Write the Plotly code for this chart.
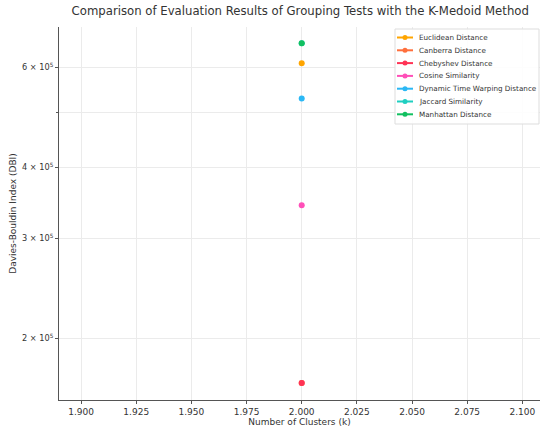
import plotly.graph_objects as go

series_names = ["Euclidean Distance", "Canberra Distance", "Chebyshev Distance",
                "Cosine Similarity", "Dynamic Time Warping Distance",
                "Jaccard Similarity", "Manhattan Distance"]
colors = ["#FFA500", "#FF6F3C", "#FF3355", "#FF4FB8", "#2BB8F5", "#1FCFC1", "#12C060"]
clusters = [2]
dbi_values = [[610000], [167000], [167000], [343000], [529000], [661000], [661000]]

y_tickvals = [2e5, 3e5, 4e5, 6e5]
y_ticktext = ["2 × 10<sup>5</sup>", "3 × 10<sup>5</sup>", "4 × 10<sup>5</sup>", "6 × 10<sup>5</sup>"]
y_minor_vals = [5e5]
x_tickvals = [1.9, 1.925, 1.95, 1.975, 2.0, 2.025, 2.05, 2.075, 2.1]
x_ticktext = ["1.900", "1.925", "1.950", "1.975", "2.000", "2.025", "2.050", "2.075", "2.100"]

W, H = 541, 427
L, R, T, B = 59, 1, 27, 27
PW, PH = W - L - R, H - T - B


def px(x):
    return (x - L) / PW


def py(y):
    return 1 - (y - T) / PH


fig = go.Figure()
for name, col, vals in zip(series_names, colors, dbi_values):
    fig.add_trace(go.Scatter(x=clusters, y=vals, name=name, mode="lines+markers",
                             line=dict(color=col, width=2), marker=dict(color=col, size=6),
                             showlegend=False))

# custom compact legend (matplotlib style)
shapes = [dict(type="rect", xref="paper", yref="paper", x0=px(395), x1=px(539), y0=py(124), y1=py(29),
               line=dict(color="#dddddd", width=1), fillcolor="rgba(255,255,255,0.9)", layer="above")]
annotations = []
for i, (name, col) in enumerate(zip(series_names, colors)):
    yy = 37.5 + i * 12.8
    shapes.append(dict(type="line", xref="paper", yref="paper", x0=px(397), x1=px(413),
                       y0=py(yy), y1=py(yy), line=dict(color=col, width=2), layer="above"))
    shapes.append(dict(type="circle", xref="paper", yref="paper", x0=px(402.5), x1=px(407.5),
                       y0=py(yy + 2.5), y1=py(yy - 2.5), line=dict(color=col, width=0),
                       fillcolor=col, layer="above"))
    annotations.append(dict(text=name, xref="paper", yref="paper", x=px(417), y=py(yy),
                            xanchor="left", yanchor="middle", showarrow=False,
                            font=dict(size=7.2, color="#333333")))

font = "DejaVu Sans"
fig.update_layout(
    width=W, height=H,
    margin=dict(l=L, r=R, t=T, b=B),
    paper_bgcolor="white", plot_bgcolor="white",
    font=dict(family=font, color="#333333"),
    title=dict(text="Comparison of Evaluation Results of Grouping Tests with the K-Medoid Method",
               x=0.555, xanchor="center", y=0.985, yanchor="top",
               font=dict(size=11.7, color="#333333")),
    showlegend=False,
    shapes=shapes,
    annotations=annotations,
    xaxis=dict(range=[1.89, 2.108], tickvals=x_tickvals, ticktext=x_ticktext,
               showgrid=True, gridcolor="#ebebeb", gridwidth=1,
               showline=True, linecolor="#555555", linewidth=1,
               ticks="outside", ticklen=3, tickcolor="#555555",
               tickfont=dict(size=9), zeroline=False,
               title=dict(text="Number of Clusters (k)", font=dict(size=9), standoff=2)),
    yaxis=dict(type="log", range=[5.193, 5.849], tickvals=y_tickvals, ticktext=y_ticktext,
               showgrid=True, gridcolor="#ebebeb", gridwidth=1,
               minor=dict(tickvals=y_minor_vals, showgrid=True, gridcolor="#ebebeb",
                          ticks="outside", ticklen=2, tickcolor="#555555"),
               showline=True, linecolor="#555555", linewidth=1,
               ticks="outside", ticklen=3, tickcolor="#555555",
               tickfont=dict(size=8.2), zeroline=False,
               title=dict(text="Davies-Bouldin Index (DBI)", font=dict(size=9), standoff=3)),
)
fig.write_html("out.html", config={"displayModeBar": False},
               post_script="document.body.style.margin='0';document.body.style.overflow='hidden';")
